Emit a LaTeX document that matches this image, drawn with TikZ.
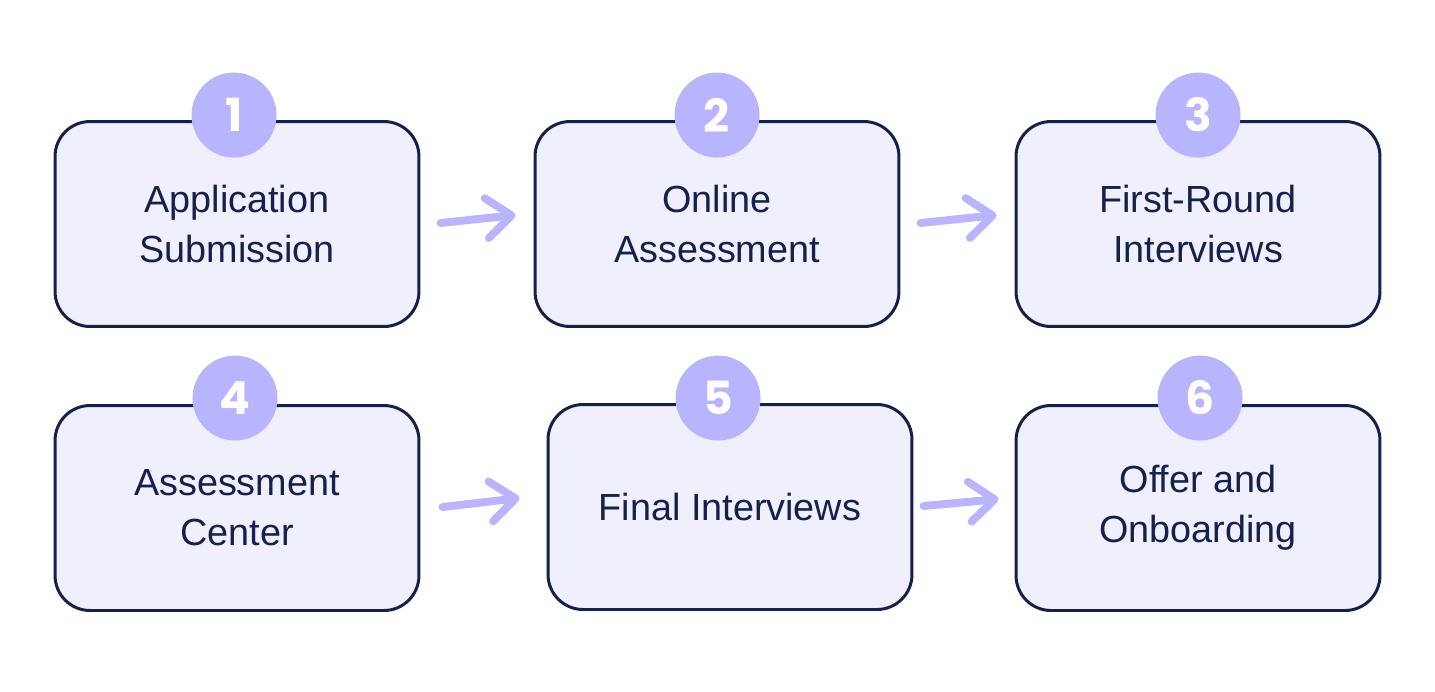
\documentclass[tikz,border=0pt]{standalone}
\usepackage{fontspec}
\setmainfont{Liberation Sans}
\newfontfamily\numfont{Poppins}
\usetikzlibrary{arrows.meta,calc}
\definecolor{stepfill}{HTML}{F0EFFC}
\definecolor{stepline}{HTML}{13214B}
\definecolor{badge}{HTML}{B8B4FE}
\begin{document}
\begin{tikzpicture}[
      x=0.02cm, y=-0.02cm,
      stepbox/.style={draw=stepline, fill=stepfill, line width=1.7pt,
        rounded corners=0.7cm, minimum width=7.28cm, minimum height=4.1cm,
        align=center, font=\fontsize{21.5}{28.5}\selectfont, text=stepline},
      badgenum/.style={circle, fill=badge, minimum size=1.7cm, inner sep=0pt,
        text=white, font=\numfont\bfseries\fontsize{26}{26}\selectfont},
      handarrow/.style={draw=badge, line width=4.5pt, line cap=round, line join=round,
        -{Straight Barb[length=0.5cm, width=0.8cm, round]}}
    ]
    \useasboundingbox (0,0) rectangle (1435,691);
    % first row
    \node (app) [stepbox] at (237,224) {Application\\Submission};
    \node (online) [stepbox] at (717,224) {Online\\Assessment};
    \node (first) [stepbox] at (1198,224) {First-Round\\Interviews};
    % second row
    \node (center) [stepbox] at (237,508) {Assessment\\Center};
    \node (final) [stepbox] at (730,507) {Final Interviews};
    \node (offer) [stepbox] at (1198,508) {Offer and\\Onboarding};
    % numbers
    \node (n1) [badgenum] at ($(app.north)+(-3,-5)$) {1};
    \node (n2) [badgenum] at ($(online.north)+(0,-5)$) {2};
    \node (n3) [badgenum] at ($(first.north)+(0,-5)$) {3};
    \node (n4) [badgenum] at ($(center.north)+(-2,-6)$) {4};
    \node (n5) [badgenum] at ($(final.north)+(-12,-5)$) {5};
    \node (n6) [badgenum] at ($(offer.north)+(2,-6)$) {6};
    % arrows
    \draw[handarrow] ($(app.east)+(20,-1)$) -- ($(online.west)+(-18,-9)$);
    \draw[handarrow] ($(online.east)+(20,-1)$) -- ($(first.west)+(-18,-9)$);
    \draw[handarrow] ($(center.east)+(22,-1)$) -- ($(final.west)+(-27,-9)$);
    \draw[handarrow] ($(final.east)+(10,-1)$) -- ($(offer.west)+(-16,-9)$);
  \end{tikzpicture}
\end{document}
